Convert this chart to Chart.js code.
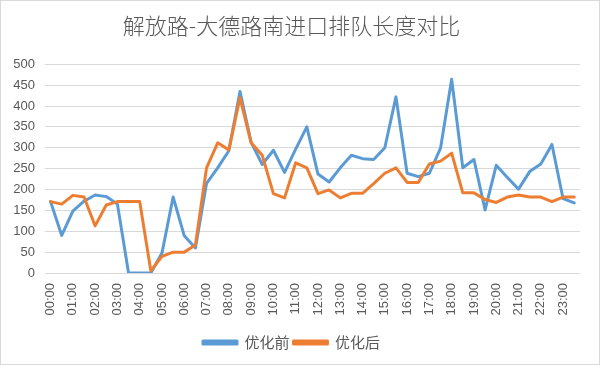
<!DOCTYPE html>
<html>
<head>
<meta charset="utf-8">
<script src="https://cdn.jsdelivr.net/npm/chart.js@4/dist/chart.umd.min.js"></script>
<style>
  html, body { margin: 0; padding: 0; background: #ffffff; }
  #wrap { width: 600px; height: 365px; position: relative; }
</style>
</head>
<body>
<div id="wrap"><canvas id="c" width="600" height="365"></canvas></div>
<script>
const chartTitle = '解放路-大德路南进口排队长度对比';
const seriesNames = ['优化前', '优化后'];
const timeLabels = [
  '00:00','00:30','01:00','01:30','02:00','02:30','03:00','03:30',
  '04:00','04:30','05:00','05:30','06:00','06:30','07:00','07:30',
  '08:00','08:30','09:00','09:30','10:00','10:30','11:00','11:30',
  '12:00','12:30','13:00','13:30','14:00','14:30','15:00','15:30',
  '16:00','16:30','17:00','17:30','18:00','18:30','19:00','19:30',
  '20:00','20:30','21:00','21:30','22:00','22:30','23:00','23:30'
];
const beforeValues = [
  171, 90, 148, 172, 187, 183, 165, 0, 0, 0,
  48, 182, 89, 60, 215, 252, 293, 435, 313, 260,
  294, 241, 297, 350, 237, 218, 252, 282, 274, 272,
  300, 422, 239, 231, 239, 299, 464, 252, 272, 151,
  258, 229, 201, 243, 261, 308, 178, 168
];
const afterValues = [
  171, 165, 186, 182, 113, 163, 171, 171, 171, 5,
  40, 50, 50, 67, 252, 312, 295, 420, 312, 282,
  190, 180, 264, 252, 190, 199, 180, 191, 191, 214,
  239, 252, 217, 217, 261, 268, 287, 192, 192, 176,
  169, 182, 187, 182, 182, 171, 182, 182
];
const yTicks = [0, 50, 100, 150, 200, 250, 300, 350, 400, 450, 500];

const borderPlugin = {
  id: 'outerBorder',
  beforeDraw(chart) {
    const ctx = chart.ctx;
    ctx.save();
    ctx.fillStyle = '#ffffff';
    ctx.fillRect(0, 0, chart.width, chart.height);
    ctx.strokeStyle = '#d9d9d9';
    ctx.lineWidth = 1;
    ctx.strokeRect(0.5, 0.5, chart.width - 1, chart.height - 1);
    ctx.restore();
  }
};

const tickFont = { family: '"Liberation Sans", Arial, sans-serif', size: 13 };
const cjkFont = '"Noto Sans CJK SC", "Noto Sans", sans-serif';

new Chart(document.getElementById('c'), {
  type: 'line',
  data: {
    labels: timeLabels,
    datasets: [
      {
        label: seriesNames[0],
        data: beforeValues,
        borderColor: '#5B9BD5',
        backgroundColor: '#5B9BD5',
        borderWidth: 3,
        pointRadius: 0,
        tension: 0,
        borderJoinStyle: 'round',
        borderCapStyle: 'round',
        order: 2
      },
      {
        label: seriesNames[1],
        data: afterValues,
        borderColor: '#ED7D31',
        backgroundColor: '#ED7D31',
        borderWidth: 3,
        pointRadius: 0,
        tension: 0,
        borderJoinStyle: 'round',
        borderCapStyle: 'round',
        order: 1
      }
    ]
  },
  options: {
    responsive: false,
    animation: false,
    layout: { padding: { left: 0, right: 17, top: 0, bottom: 5 } },
    plugins: {
      tooltip: { enabled: false },
      title: {
        display: true,
        text: chartTitle,
        color: '#595959',
        font: { family: cjkFont, size: 22, weight: 300, lineHeight: 1.2 },
        padding: { top: 12.8, bottom: 25.1 }
      },
      legend: {
        display: true,
        position: 'bottom',
        labels: {
          color: '#595959',
          font: { family: cjkFont, size: 15 },
          boxWidth: 34,
          boxHeight: 3,
          padding: 4,
          sort: (a, b) => a.datasetIndex - b.datasetIndex
        }
      }
    },
    scales: {
      x: {
        type: 'category',
        offset: true,
        grid: { display: false, drawTicks: false },
        border: { display: false },
        ticks: {
          autoSkip: false,
          minRotation: 90,
          maxRotation: 90,
          padding: 10,
          color: '#595959',
          font: tickFont,
          callback: function (value, index) {
            return index % 2 === 0 ? timeLabels[index] : '';
          }
        },
        afterFit: function (scale) { scale.height = 58; }
      },
      y: {
        min: 0,
        max: 500,
        grid: { color: '#d9d9d9', lineWidth: 1, drawTicks: false },
        border: { display: false },
        afterBuildTicks: function (scale) {
          scale.ticks = yTicks.map(v => ({ value: v }));
        },
        ticks: {
          padding: 10,
          color: '#595959',
          font: tickFont
        },
        afterFit: function (scale) { scale.width = 45; }
      }
    }
  },
  plugins: [borderPlugin]
});
</script>
</body>
</html>
